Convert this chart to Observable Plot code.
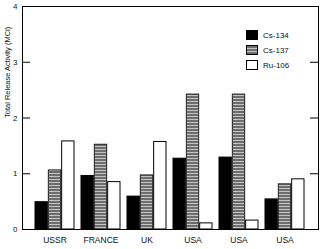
<!DOCTYPE html>
<html>
<head>
<meta charset="utf-8">
<script src="https://cdn.jsdelivr.net/npm/d3@7"></script>
<script src="https://cdn.jsdelivr.net/npm/@observablehq/plot@0.6"></script>
<style>
  html, body { margin: 0; padding: 0; background: #fff; }
  #wrap { position: relative; width: 326px; height: 249px; font-family: "Liberation Sans", Arial, sans-serif; }
  .leg { position: absolute; left: 246px; display: flex; align-items: center; font-size: 8px; color: #111; }
  .sw { width: 12px; height: 10px; border: 1px solid #000; margin-right: 5px; box-sizing: border-box; }
</style>
</head>
<body>
<div id="wrap"></div>
<script>
const groups = ["USSR", "FRANCE", "UK", "USA-1", "USA-2", "USA-3"];
const groupLabels = ["USSR", "FRANCE", "UK", "USA", "USA", "USA"];
const series = ["Cs-134", "Cs-137", "Ru-106"];
const cs134 = [0.49, 0.96, 0.59, 1.27, 1.29, 0.54];
const cs137 = [1.06, 1.52, 0.97, 2.42, 2.42, 0.81];
const ru106 = [1.58, 0.85, 1.57, 0.11, 0.16, 0.90];
const yTicks = [0, 1, 2, 3, 4];

const data = [];
groups.forEach((g, i) => {
  data.push({group: g, series: "Cs-134", value: cs134[i]});
  data.push({group: g, series: "Cs-137", value: cs137[i]});
  data.push({group: g, series: "Ru-106", value: ru106[i]});
});

const W = 326, H = 249, mL = 22, mR = 8, mT = 6, mB = 20;
const plotW = W - mL - mR;
const labelOf = Object.fromEntries(groups.map((g, i) => [g, groupLabels[i]]));
const third = 40 / 3;

const plot = Plot.plot({
  width: W, height: H,
  marginLeft: mL, marginRight: mR, marginTop: mT, marginBottom: mB,
  style: {fontFamily: "Liberation Sans, Arial, sans-serif", fontSize: "8px", color: "#111", background: "#fff"},
  x: {domain: groups, paddingInner: 0.142, paddingOuter: 0.236, axis: null},
  y: {domain: [0, 4], axis: null},
  marks: [
    Plot.barY(data.filter(d => d.series === "Cs-134"), {x: "group", y: "value", fill: "#000", stroke: "#000", strokeWidth: 1, insetRight: 2 * third}),
    Plot.barY(data.filter(d => d.series === "Cs-137"), {x: "group", y: "value", fill: "url(#stripes)", stroke: "#222", strokeWidth: 1, insetLeft: third, insetRight: third}),
    Plot.barY(data.filter(d => d.series === "Ru-106"), {x: "group", y: "value", fill: "#fff", stroke: "#000", strokeWidth: 1, insetLeft: 2 * third}),
    Plot.ruleY(yTicks, {stroke: "#000", insetRight: plotW - 8}),
    Plot.ruleY(yTicks, {stroke: "#000", insetLeft: plotW - 8}),
    Plot.axisY({ticks: yTicks, tickSize: 0, tickPadding: 5, fontSize: 8, tickFormat: d3.format("d"), label: null}),
    Plot.text(["Total Release Activity (MCi)"], {frameAnchor: "left", rotate: -90, dx: -15, fontSize: 7.5, text: d => d, fill: "#111"}),
    Plot.axisX({tickSize: 0, tickPadding: 7, fontSize: 8.5, tickFormat: d => labelOf[d], label: null}),
    Plot.frame({stroke: "#000", strokeWidth: 1})
  ]
});

// stripe pattern for Cs-137
const ns = "http://www.w3.org/2000/svg";
const defs = document.createElementNS(ns, "defs");
const pat = document.createElementNS(ns, "pattern");
pat.setAttribute("id", "stripes");
pat.setAttribute("patternUnits", "userSpaceOnUse");
pat.setAttribute("width", "4");
pat.setAttribute("height", "3");
const r1 = document.createElementNS(ns, "rect");
r1.setAttribute("width", "4"); r1.setAttribute("height", "3"); r1.setAttribute("fill", "#6e6e6e");
const r2 = document.createElementNS(ns, "rect");
r2.setAttribute("y", "2"); r2.setAttribute("width", "4"); r2.setAttribute("height", "1"); r2.setAttribute("fill", "#c4c4c4");
pat.appendChild(r1); pat.appendChild(r2); defs.appendChild(pat);
plot.insertBefore(defs, plot.firstChild);

const wrap = document.getElementById("wrap");
wrap.appendChild(plot);

const legFills = {"Cs-134": "#000", "Cs-137": "repeating-linear-gradient(to bottom, #6e6e6e 0px, #6e6e6e 2px, #c4c4c4 2px, #c4c4c4 3px)", "Ru-106": "#fff"};
const legTops = [30, 45, 60];
series.forEach((s, i) => {
  const item = document.createElement("div");
  item.className = "leg";
  item.style.top = legTops[i] + "px";
  const sw = document.createElement("div");
  sw.className = "sw";
  sw.style.background = legFills[s];
  const t = document.createElement("span");
  t.textContent = s;
  item.appendChild(sw); item.appendChild(t);
  wrap.appendChild(item);
});
</script>
</body>
</html>
